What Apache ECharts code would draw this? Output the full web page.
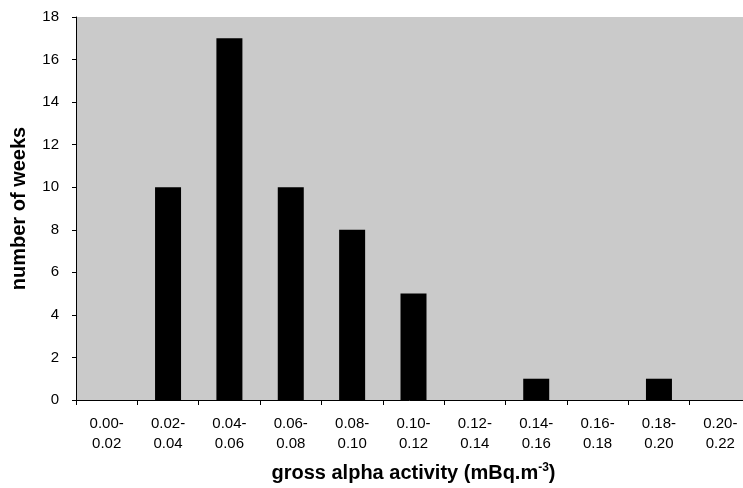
<!DOCTYPE html>
<html><head><meta charset="utf-8">
<script src="https://cdn.jsdelivr.net/npm/echarts@6/dist/echarts.min.js"></script>
<style>html,body{margin:0;padding:0;background:#fff;overflow:hidden}#c{width:743px;height:488px}</style>
</head><body><div id="c"></div>
<script>
const categories = ["0.00-\n0.02","0.02-\n0.04","0.04-\n0.06","0.06-\n0.08","0.08-\n0.10","0.10-\n0.12","0.12-\n0.14","0.14-\n0.16","0.16-\n0.18","0.18-\n0.20","0.20-\n0.22"];
const weeks = [0,10,17,10,8,5,0,1,0,1,0];
const yTicks = [0,2,4,6,8,10,12,14,16,18];

const chart = echarts.init(document.getElementById('c'));
chart.setOption({
  animation:false,
  grid:{left:76,right:-8,top:17,bottom:88,outerBoundsMode:'none',containLabel:false,show:true,backgroundColor:'#cacaca',borderWidth:0},
  xAxis:{type:'category',data:categories,
    axisLine:{lineStyle:{color:'#000',width:1}},
    axisTick:{show:true,alignWithLabel:false,length:5,lineStyle:{color:'#000'},inside:false},
    axisLabel:{color:'#000',fontFamily:'Liberation Sans',fontSize:15,lineHeight:20,margin:14},
    name:'{a|gross alpha activity (mBq.m}{s|-3}{a|)}',nameLocation:'middle',nameGap:62,
    nameTextStyle:{rich:{a:{fontFamily:'Liberation Sans',fontSize:20,fontWeight:'bold',color:'#000'},s:{fontFamily:'Liberation Sans',fontSize:12,fontWeight:'bold',color:'#000',verticalAlign:'top',padding:[0,0,10,0]}}}
  },
  yAxis:{type:'value',min:0,max:18,interval:2,
    axisLine:{show:true,lineStyle:{color:'#000'}},
    axisTick:{show:true,length:4,lineStyle:{color:'#000'}},
    splitLine:{show:false},
    axisLabel:{color:'#000',fontFamily:'Liberation Sans',fontSize:15,margin:17,
      formatter:v=>yTicks.includes(v)?String(v):''},
    name:'number of weeks',nameLocation:'middle',nameGap:47,
    nameTextStyle:{fontFamily:'Liberation Sans',fontSize:20,fontWeight:'bold',color:'#000'}
  },
  series:[{type:'bar',data:weeks,barWidth:26,itemStyle:{color:'#000'}}]
});
</script></body></html>
